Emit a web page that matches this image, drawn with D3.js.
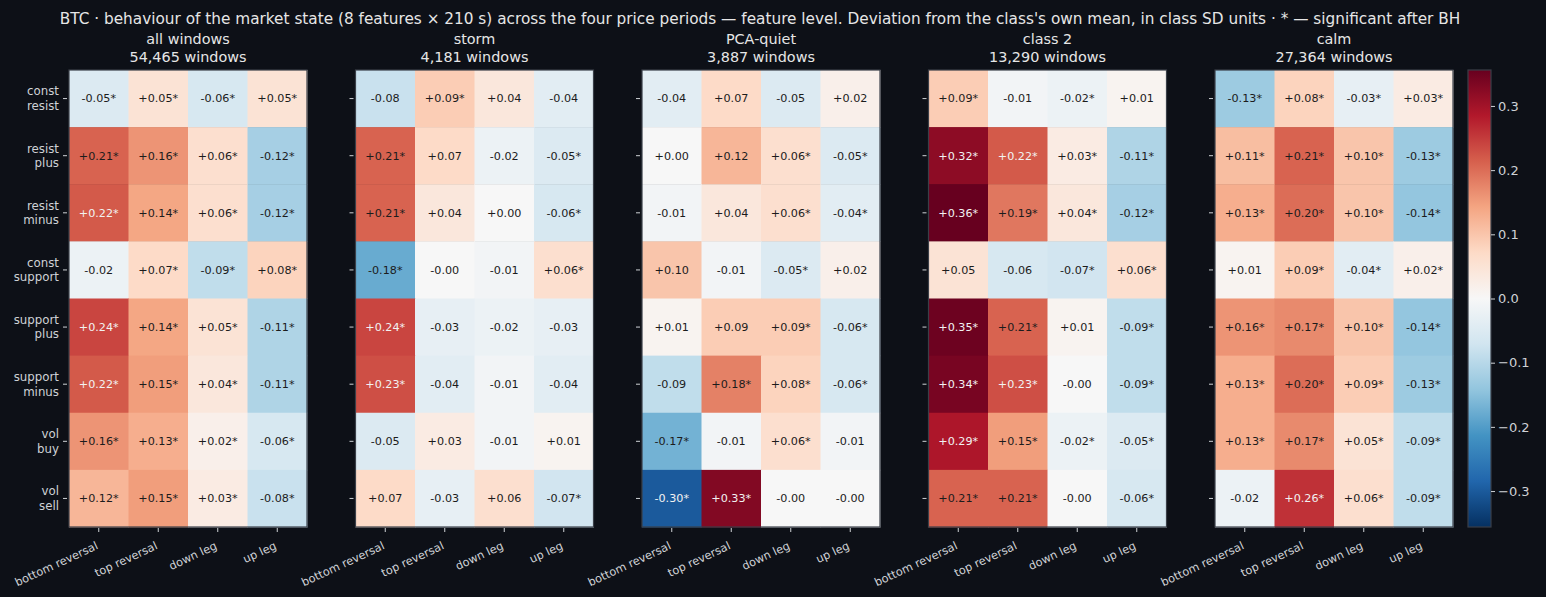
<!DOCTYPE html>
<html><head><meta charset="utf-8">
<script src="https://cdn.jsdelivr.net/npm/d3@7"></script>
<style>
html,body{margin:0;padding:0;background:#0d1017;}
svg{display:block;font-family:"DejaVu Sans",sans-serif;}
</style></head><body>
<svg id="c" width="1546" height="597"></svg>
<script>
const titleText = "BTC · behaviour of the market state (8 features × 210 s) across the four price periods — feature level. Deviation from the class's own mean, in class SD units · * — significant after BH";
const panelNames = ["all windows","storm","PCA-quiet","class 2","calm"];
const panelCounts = ["54,465 windows","4,181 windows","3,887 windows","13,290 windows","27,364 windows"];
const features = ["const\nresist","resist\nplus","resist\nminus","const\nsupport","support\nplus","support\nminus","vol\nbuy","vol\nsell"];
const phases = ["bottom reversal","top reversal","down leg","up leg"];
const cbTicks = [-0.3,-0.2,-0.1,0,0.1,0.2,0.3];
const colorLimit = 0.356;

const valsAll = [
 [-0.05, 0.05,-0.06, 0.05],
 [ 0.21, 0.16, 0.06,-0.12],
 [ 0.22, 0.14, 0.06,-0.12],
 [-0.02, 0.07,-0.09, 0.08],
 [ 0.24, 0.14, 0.05,-0.11],
 [ 0.22, 0.15, 0.04,-0.11],
 [ 0.16, 0.13, 0.02,-0.06],
 [ 0.12, 0.15, 0.03,-0.08]];
const sigAll = [[1,1,1,1],[1,1,1,1],[1,1,1,1],[0,1,1,1],[1,1,1,1],[1,1,1,1],[1,1,1,1],[1,1,1,1]];

const valsStorm = [
 [-0.08, 0.09, 0.04,-0.04],
 [ 0.21, 0.07,-0.02,-0.05],
 [ 0.21, 0.04, 0.00,-0.06],
 [-0.18,-0.00,-0.01, 0.06],
 [ 0.24,-0.03,-0.02,-0.03],
 [ 0.23,-0.04,-0.01,-0.04],
 [-0.05, 0.03,-0.01, 0.01],
 [ 0.07,-0.03, 0.06,-0.07]];
const sigStorm = [[0,1,0,0],[1,0,0,1],[1,0,0,1],[1,0,0,1],[1,0,0,0],[1,0,0,0],[0,0,0,0],[0,0,0,1]];

const valsQuiet = [
 [-0.04, 0.07,-0.05, 0.02],
 [ 0.00, 0.12, 0.06,-0.05],
 [-0.01, 0.04, 0.06,-0.04],
 [ 0.10,-0.01,-0.05, 0.02],
 [ 0.01, 0.09, 0.09,-0.06],
 [-0.09, 0.18, 0.08,-0.06],
 [-0.17,-0.01, 0.06,-0.01],
 [-0.30, 0.33,-0.00,-0.00]];
const sigQuiet = [[0,0,0,0],[0,0,1,1],[0,0,1,1],[0,0,1,0],[0,0,1,1],[0,1,1,1],[1,0,1,0],[1,1,0,0]];

const valsClass2 = [
 [ 0.09,-0.01,-0.02, 0.01],
 [ 0.32, 0.22, 0.03,-0.11],
 [ 0.36, 0.19, 0.04,-0.12],
 [ 0.05,-0.06,-0.07, 0.06],
 [ 0.35, 0.21, 0.01,-0.09],
 [ 0.34, 0.23,-0.00,-0.09],
 [ 0.29, 0.15,-0.02,-0.05],
 [ 0.21, 0.21,-0.00,-0.06]];
const sigClass2 = [[1,0,1,0],[1,1,1,1],[1,1,1,1],[0,0,1,1],[1,1,0,1],[1,1,0,1],[1,1,1,1],[1,1,0,1]];

const valsCalm = [
 [-0.13, 0.08,-0.03, 0.03],
 [ 0.11, 0.21, 0.10,-0.13],
 [ 0.13, 0.20, 0.10,-0.14],
 [ 0.01, 0.09,-0.04, 0.02],
 [ 0.16, 0.17, 0.10,-0.14],
 [ 0.13, 0.20, 0.09,-0.13],
 [ 0.13, 0.17, 0.05,-0.09],
 [-0.02, 0.26, 0.06,-0.09]];
const sigCalm = [[1,1,1,1],[1,1,1,1],[1,1,1,1],[0,1,1,1],[1,1,1,1],[1,1,1,1],[1,1,1,1],[0,1,1,1]];

const panelVals = [valsAll,valsStorm,valsQuiet,valsClass2,valsCalm];
const panelSig = [sigAll,sigStorm,sigQuiet,sigClass2,sigCalm];

// matplotlib RdBu_r
const rdbu = ["#053061","#2166ac","#4393c3","#92c5de","#d1e5f0","#f7f7f7","#fddbc7","#f4a582","#d6604d","#b2182b","#67001f"];
const color = d3.scaleLinear()
  .domain(d3.range(11).map(i => -colorLimit + i*(2*colorLimit/10)))
  .range(rdbu).interpolate(d3.interpolateRgb).clamp(true);

const svg = d3.select("#c");
const W=1546,H=597;
svg.append("rect").attr("width",W).attr("height",H).attr("fill","#0d1017");

const textCol="#e6e6e6", tickCol="#cfd2d6", frameCol="#3a3f48";

svg.append("text").attr("x",760).attr("y",23.5).attr("text-anchor","middle")
  .attr("fill",textCol).attr("font-size",15.3).text(titleText);

const plotTop=70,plotBottom=527,pw=238,step=286.5,left0=69;
const fmt = v => ((v<0||Object.is(v,-0))?"-":"+") + Math.abs(v).toFixed(2);

panelVals.forEach((vals,p)=>{
  const x0 = left0 + p*step;
  const g = svg.append("g").attr("transform",`translate(${x0},0)`);
  const x = d3.scaleBand().domain(phases).range([0,pw]);
  const y = d3.scaleBand().domain(features).range([plotTop,plotBottom]);
  const cells=[];
  vals.forEach((row,i)=>row.forEach((v,j)=>cells.push({f:features[i],ph:phases[j],v,s:panelSig[p][i][j]})));
  g.selectAll("rect.cell").data(cells).join("rect").attr("class","cell")
    .attr("x",d=>x(d.ph)).attr("y",d=>y(d.f))
    .attr("width",x.bandwidth()+0.5).attr("height",y.bandwidth()+0.5)
    .attr("fill",d=>color(d.v));
  g.selectAll("text.ann").data(cells).join("text").attr("class","ann")
    .attr("x",d=>x(d.ph)+x.bandwidth()/2).attr("y",d=>y(d.f)+y.bandwidth()/2)
    .attr("dy","0.35em").attr("text-anchor","middle").attr("font-size",11.2)
    .attr("fill",d=>Math.abs(d.v)>0.6*colorLimit?"#f2f2f2":"#1c1c1c")
    .text(d=>fmt(d.v)+(d.s?"*":""));
  g.append("rect").attr("x",0).attr("y",plotTop).attr("width",pw).attr("height",plotBottom-plotTop)
    .attr("fill","none").attr("stroke",frameCol).attr("stroke-width",1.2);
  // titles
  g.append("text").attr("x",pw/2).attr("y",43.5).attr("text-anchor","middle").attr("fill",textCol)
    .attr("font-size",14.4).text(panelNames[p]);
  g.append("text").attr("x",pw/2).attr("y",61.5).attr("text-anchor","middle").attr("fill",textCol)
    .attr("font-size",14.4).text(panelCounts[p]);
  // y ticks
  features.forEach(f=>{
    const cy=y(f)+y.bandwidth()/2;
    g.append("line").attr("x1",-6).attr("x2",-2).attr("y1",cy).attr("y2",cy).attr("stroke",tickCol).attr("stroke-width",1);
    if(p===0){
      const lines=f.split("\n");
      const t=g.append("text").attr("text-anchor","end").attr("fill",tickCol).attr("font-size",11.8);
      lines.forEach((l,k)=>t.append("tspan").attr("x",-10).attr("y",cy+(k-(lines.length-1)/2)*14.5).attr("dy","0.35em").text(l));
    }
  });
  // x ticks
  phases.forEach(ph=>{
    const cx=x(ph)+x.bandwidth()/2;
    g.append("line").attr("x1",cx).attr("x2",cx).attr("y1",plotBottom+1).attr("y2",plotBottom+5).attr("stroke",tickCol).attr("stroke-width",1);
    g.append("text").attr("transform",`translate(${cx},${plotBottom+21.5}) rotate(-25)`)
      .attr("text-anchor","end").attr("fill",tickCol).attr("font-size",11.3).text(ph);
  });
});

// colorbar
const cbX=1468,cbW=23;
const defs=svg.append("defs");
const grad=defs.append("linearGradient").attr("id","cbg").attr("x1",0).attr("y1",1).attr("x2",0).attr("y2",0);
rdbu.forEach((c,i)=>grad.append("stop").attr("offset",i/10).attr("stop-color",c));
svg.append("rect").attr("x",cbX).attr("y",plotTop).attr("width",cbW).attr("height",plotBottom-plotTop)
  .attr("fill","url(#cbg)").attr("stroke",frameCol).attr("stroke-width",1.2);
const cy=d3.scaleLinear().domain([-colorLimit,colorLimit]).range([plotBottom,plotTop]);
const cbAxis=svg.append("g").attr("transform",`translate(${cbX+cbW},0)`)
  .call(d3.axisRight(cy).tickValues(cbTicks).tickSize(4).tickFormat(d=>d.toFixed(1).replace("-","−")));
cbAxis.select(".domain").remove();
cbAxis.selectAll("line").attr("stroke",tickCol);
cbAxis.selectAll("text").attr("fill",tickCol).attr("font-size",13).attr("font-family","DejaVu Sans").attr("x",7);
</script>
</body></html>
